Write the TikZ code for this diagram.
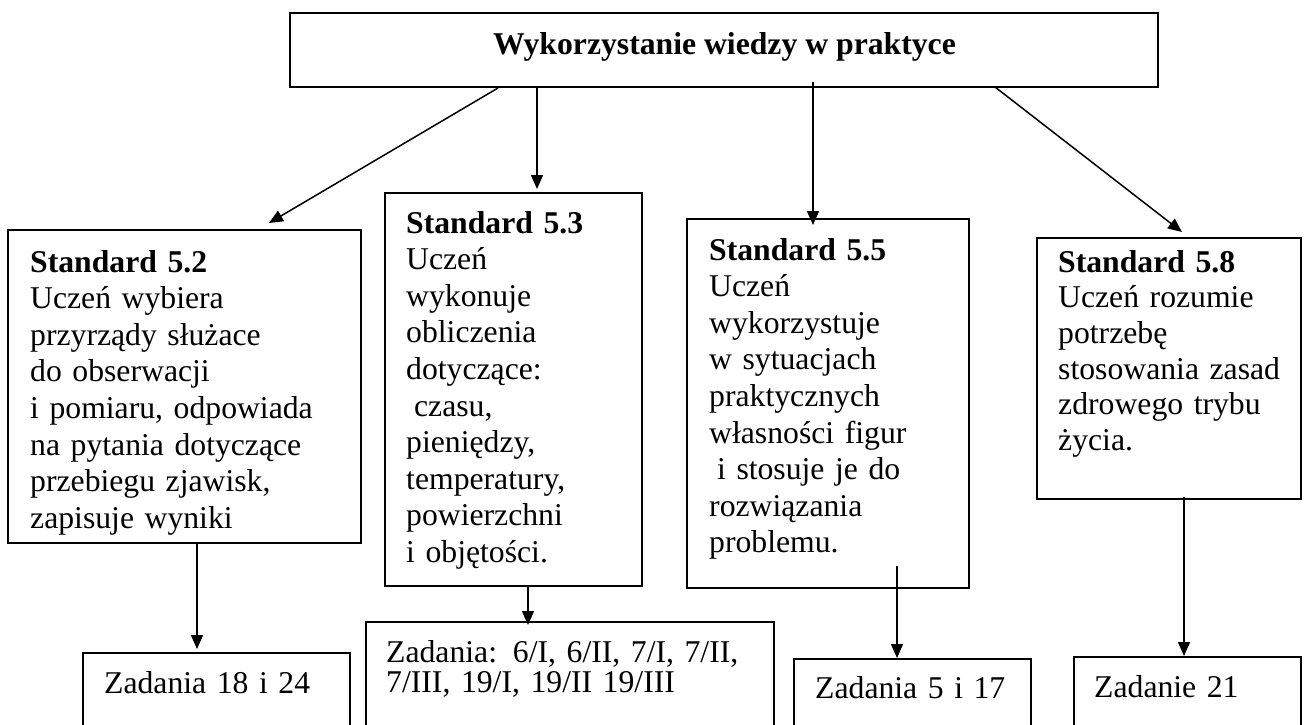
\documentclass[tikz,border=0pt]{standalone}
\usepackage{fontspec}
\setmainfont{Liberation Serif}
\usetikzlibrary{arrows.meta}
\begin{document}
\begin{tikzpicture}[x=1pt,y=1pt,
  box/.style={draw=black, line width=2.1pt, inner sep=0pt, outer sep=0pt, anchor=north west},
  txt/.style={inner sep=0pt, anchor=base west, align=left, text width=420pt,
              font=\fontsize{31.7}{36.6}\selectfont},
  arr/.style={line width=1.5pt, -{Triangle[length=14pt,width=12pt]}}]
\useasboundingbox (0,-724) rectangle (1304,0);
\fill[white] (0,-724) rectangle (1304,0);
\clip (0,-724) rectangle (1304,0);

% top box
\node[box, minimum width=868pt, minimum height=74pt] (top) at (290,-13) {};
\node[inner sep=0pt, anchor=base, font=\fontsize{31.7}{36.6}\selectfont\bfseries] (title) at (724.5,-54) {Wykorzystanie wiedzy w praktyce};

% standard boxes
\node[box, minimum width=353pt, minimum height=313pt] (b1) at (8,-230) {};
\node[box, minimum width=257pt, minimum height=393pt] (b2) at (385,-193) {};
\node[box, minimum width=282pt, minimum height=369pt] (b3) at (687,-219) {};
\node[box, minimum width=264pt, minimum height=261pt] (b4) at (1037,-238) {};

\node[txt] (t1) at (30,-272) {\textbf{Standard 5.2}\\Uczeń wybiera\\przyrządy służace\\do obserwacji\\i pomiaru, odpowiada\\na pytania dotyczące\\przebiegu zjawisk,\\zapisuje wyniki};
\node[txt] (t2) at (406,-233) {\textbf{Standard 5.3}\\Uczeń\\wykonuje\\obliczenia\\dotyczące:\\\hspace*{0.25em}czasu,\\pieniędzy,\\temperatury,\\powierzchni\\i objętości.};
\node[txt] (t3) at (709,-260) {\textbf{Standard 5.5}\\Uczeń\\wykorzystuje\\w sytuacjach\\praktycznych\\własności figur\\\hspace*{0.25em}i stosuje je do\\rozwiązania\\problemu.};
\node[txt, font=\fontsize{31.7}{35.7}\selectfont] (t4) at (1058,-272) {\textbf{Standard 5.8}\\Uczeń rozumie\\potrzebę\\stosowania zasad\\zdrowego trybu\\życia.};

% task boxes
\node[box, minimum width=267pt, minimum height=120pt] (z1) at (83,-653) {};
\node[box, minimum width=408pt, minimum height=150pt] (z2) at (366,-622) {};
\node[box, minimum width=237pt, minimum height=120pt] (z3) at (794,-659) {};
\node[box, minimum width=227pt, minimum height=120pt] (z4) at (1074,-657) {};

\node[txt] (zt1) at (104,-693) {Zadania 18 i 24};
\node[txt, font=\fontsize{31.7}{30}\selectfont] (zt2) at (386,-662) {Zadania: 6/I, 6/II, 7/I, 7/II,\\7/III, 19/I, 19/II 19/III};
\node[txt] (zt3) at (815,-698) {Zadania 5 i 17};
\node[txt] (zt4) at (1094,-697) {Zadanie 21};

% connector end points
\coordinate (a1s) at (498,-88);  \coordinate (a1e) at (269,-223);
\coordinate (a2s) at (537,-87);  \coordinate (a2e) at (537,-189);
\coordinate (a3s) at (813,-82);  \coordinate (a3e) at (813,-225);
\coordinate (a4s) at (995,-87);  \coordinate (a4e) at (1182,-232);
\coordinate (c1s) at (197,-543); \coordinate (c1e) at (197,-649);
\coordinate (c2s) at (528,-586); \coordinate (c2e) at (528,-625);
\coordinate (c3s) at (897,-566); \coordinate (c3e) at (897,-658);
\coordinate (c4s) at (1184,-497);\coordinate (c4e) at (1184,-656);

\draw[arr] (a1s) -- (a1e);
\draw[arr] (a2s) -- (a2e);
\draw[arr] (a3s) -- (a3e);
\draw[arr] (a4s) -- (a4e);
\draw[arr] (c1s) -- (c1e);
\draw[arr] (c2s) -- (c2e);
\draw[arr] (c3s) -- (c3e);
\draw[arr] (c4s) -- (c4e);
\end{tikzpicture}
\end{document}
